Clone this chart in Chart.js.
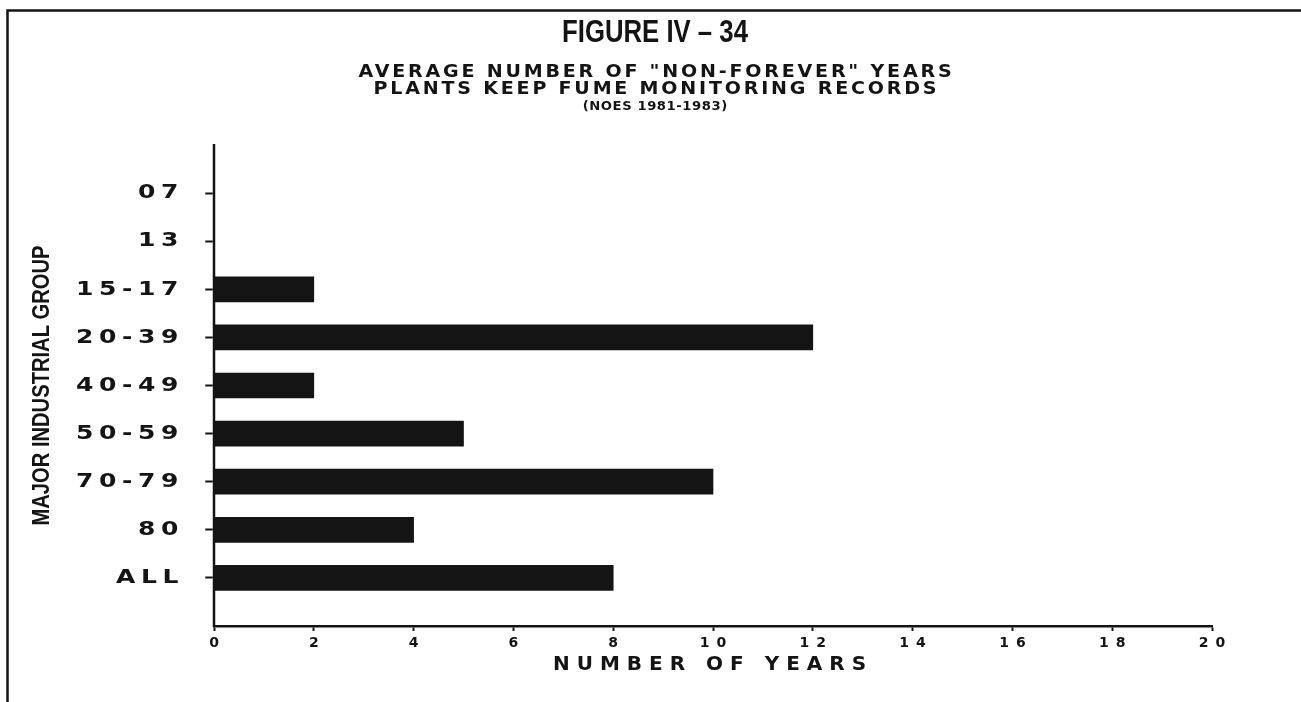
<!DOCTYPE html>
<html><head><meta charset="utf-8">
<script src="https://cdn.jsdelivr.net/npm/chart.js@4/dist/chart.umd.min.js"></script>
<style>html,body{margin:0;padding:0;background:#fff;overflow:hidden}#wrap{width:1301px;height:702px;position:relative;background:#fff}</style>
</head><body><div id="wrap"><canvas id="c" width="1301" height="702"></canvas></div>
<script>
// ---- data ----
const categories = ['07', '13', '15-17', '20-39', '40-49', '50-59', '70-79', '80', 'ALL'];
const years = [0, 0, 2, 12, 2, 5, 10, 4, 8];
const xTickValues = [0, 2, 4, 6, 8, 10, 12, 14, 16, 18, 20];
const figureTitle = 'FIGURE IV \u2013 34';
const subtitleLines = ['AVERAGE NUMBER OF "NON-FOREVER" YEARS', 'PLANTS KEEP FUME MONITORING RECORDS'];
const sourceLine = '(NOES 1981-1983)';
const yAxisTitle = 'MAJOR INDUSTRIAL GROUP';
const xAxisTitle = 'NUMBER OF YEARS';

// pad the category axis with an empty slot at each end (axis runs past first/last group)
const labels = [''].concat(categories, ['']);
const values = [null].concat(years, [null]);

const INK = '#141414';
const Y_SX = 1.25;      // horizontal stretch of y tick lettering (extended face)
const Y_TICK_LS = 4.5;  // letter spacing for y tick labels
const X_LS = 7;         // letter spacing for x labels / title (drawn after bars)

const stylePlugin = {
  id: 'style',
  beforeDraw(chart) {
    const ctx = chart.ctx;
    ctx.save();
    ctx.strokeStyle = INK;
    ctx.lineWidth = 2.5;
    ctx.beginPath();
    ctx.moveTo(7.5, 702);
    ctx.lineTo(7.5, 10.5);
    ctx.lineTo(1301, 10.5);
    ctx.stroke();
    ctx.restore();
    // y scale is drawn before the bars: stretch its lettering about the axis line
    const ax = chart.chartArea.left;
    const d = chart.currentDevicePixelRatio || 1;
    ctx.setTransform(d * Y_SX, 0, 0, d, d * ax * (1 - Y_SX), 0);
    ctx.letterSpacing = Y_TICK_LS + 'px';
  },
  beforeDatasetsDraw(chart) {
    const d = chart.currentDevicePixelRatio || 1;
    chart.ctx.setTransform(d, 0, 0, d, 0, 0);
    chart.ctx.letterSpacing = '0px';
  },
  afterDatasetsDraw(chart) {
    chart.ctx.letterSpacing = X_LS + 'px';
  },
  afterDraw(chart) {
    const ctx = chart.ctx;
    ctx.save();
    ctx.fillStyle = INK;
    ctx.textAlign = 'center';
    ctx.textBaseline = 'alphabetic';
    const cx = 655;
    const put = (txt, font, ls, sx, x, y) => {
      ctx.save();
      ctx.translate(x, y);
      ctx.scale(sx, 1);
      ctx.font = font;
      ctx.letterSpacing = ls + 'px';
      ctx.fillText(txt, ls / 2, 0);
      ctx.restore();
    };
    put(figureTitle, 'bold 31px "Liberation Sans"', 0, 0.83, cx, 42);
    put(subtitleLines[0], 'bold 17px "DejaVu Sans"', 2.5, 1.12, cx, 77);
    put(subtitleLines[1], 'bold 17px "DejaVu Sans"', 2.5, 1.12, cx, 94);
    put(sourceLine, 'bold 12px "DejaVu Sans"', 0.5, 1.1, cx, 110);
    const ys = chart.scales.y;
    ctx.save();
    ctx.translate(49, (ys.top + ys.bottom) / 2);
    ctx.rotate(-Math.PI / 2);
    put(yAxisTitle, 'bold 24px "Liberation Sans"', 0, 0.84, 0, 0);
    ctx.restore();
    ctx.restore();
    ctx.letterSpacing = '0px';
  }
};

new Chart(document.getElementById('c'), {
  type: 'bar',
  data: {
    labels: labels,
    datasets: [{
      data: values,
      backgroundColor: INK,
      borderWidth: 0,
      barThickness: 25
    }]
  },
  options: {
    indexAxis: 'y',
    responsive: false,
    animation: false,
    devicePixelRatio: 1,
    layout: { padding: { top: 145, right: 89, bottom: 0, left: 0 } },
    plugins: { legend: { display: false }, tooltip: { enabled: false }, title: { display: false } },
    scales: {
      y: {
        type: 'category',
        offset: false,
        afterFit(s) { s.width = 214; },
        grid: {
          offset: false,
          drawOnChartArea: false,
          drawTicks: true,
          tickLength: 7,
          tickWidth: 2,
          tickColor: (c) => (c.tick && c.tick.label) ? INK : 'rgba(0,0,0,0)'
        },
        border: { display: true, color: INK, width: 2 },
        ticks: {
          autoSkip: false,
          padding: 17,
          color: INK,
          font: { family: '"DejaVu Sans"', size: 20, weight: 'bold' }
        }
      },
      x: {
        type: 'linear',
        min: 0,
        max: 20,
        afterFit(s) { s.height = 76; },
        afterBuildTicks(s) { s.ticks = xTickValues.map(v => ({ value: v })); },
        grid: {
          drawOnChartArea: false,
          drawTicks: true,
          tickLength: 5,
          tickWidth: 2,
          tickColor: INK,
          z: 1
        },
        border: { display: true, color: INK, width: 2.5, z: 1 },
        ticks: {
          z: 1,
          autoSkip: false,
          maxRotation: 0,
          padding: 4,
          labelOffset: X_LS / 2,
          color: INK,
          font: { family: '"DejaVu Sans"', size: 14, weight: 'bold' }
        },
        title: {
          display: true,
          text: xAxisTitle,
          color: INK,
          padding: { top: 0, bottom: 25 },
          font: { family: '"DejaVu Sans"', size: 20, weight: 'bold' }
        }
      }
    }
  },
  plugins: [stylePlugin]
});
</script>
</body></html>
